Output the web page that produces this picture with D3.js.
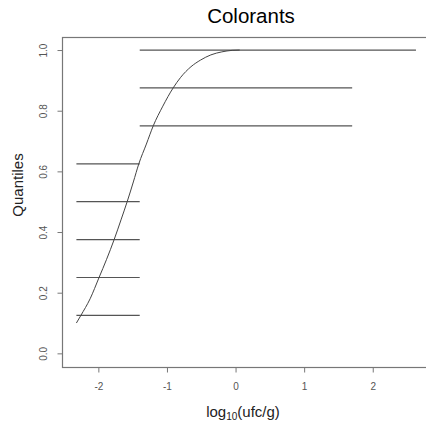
<!DOCTYPE html>
<html>
<head>
<meta charset="utf-8">
<script src="https://cdn.jsdelivr.net/npm/d3@7"></script>
<style>
  body { margin: 0; background: #fff; }
  svg { font-family: "Liberation Sans", Arial, sans-serif; }
</style>
</head>
<body>
<div class="chart"></div>
<script>
// Quantile steps (horizontal segments)
var stepLevels = [0.125, 0.25, 0.375, 0.5, 0.625, 0.75, 0.875, 1.0];
var stepStart  = [-2.32, -2.32, -2.32, -2.32, -2.32, -1.397, -1.397, -1.397];
var stepEnd    = [-1.397, -1.397, -1.397, -1.397, -1.397, 1.70, 1.70, 2.63];

// Fitted cumulative curve
var curveX = [-2.32, -2.255, -2.12, -1.99, -1.88, -1.77, -1.67, -1.58, -1.49, -1.41,
              -1.30, -1.20, -1.06, -0.91, -0.80, -0.65, -0.51, -0.36, -0.20, -0.05, 0.06];
var curveY = [0.10, 0.125, 0.18, 0.25, 0.31, 0.375, 0.44, 0.50, 0.565, 0.625,
              0.69, 0.75, 0.815, 0.875, 0.91, 0.945, 0.967, 0.984, 0.994, 0.999, 1.0];

var xTicks = [-2, -1, 0, 1, 2];
var yTicks = [0.0, 0.2, 0.4, 0.6, 0.8, 1.0];

var svgWidth = 426, svgHeight = 422;

var svg = d3.select(".chart")
  .append("svg")
  .attr("width", svgWidth)
  .attr("height", svgHeight);

var xScale = d3.scaleLinear().domain([-2.53, 2.82]).range([62, 429]);
var yScale = d3.scaleLinear().domain([-0.045, 1.043]).range([367, 37]);

// plot box (right side falls outside the picture)
svg.append("rect")
  .attr("x", 62.5)
  .attr("y", 37.5)
  .attr("width", 380)
  .attr("height", 330)
  .attr("fill", "none")
  .attr("stroke", "#777")
  .attr("stroke-width", 1.2);

// axes
var xAxis = d3.axisBottom(xScale).tickValues(xTicks).tickSize(5).tickPadding(10)
  .tickFormat(d3.format("d"));
var yAxis = d3.axisLeft(yScale).tickValues(yTicks).tickSize(5).tickPadding(10)
  .tickFormat(d3.format(".1f"));

var gx = svg.append("g").attr("transform", "translate(0, 367.5)").call(xAxis);
gx.select(".domain").remove();
gx.selectAll("line").attr("stroke", "#777");
gx.selectAll("text").attr("fill", "#555").attr("font-size", "10px")
  .text(function(d) { return d < 0 ? "-" + Math.abs(d) : d; });

var gy = svg.append("g").attr("transform", "translate(62.5, 0)").call(yAxis);
gy.select(".domain").remove();
gy.selectAll("line").attr("stroke", "#777");
gy.selectAll("text")
  .attr("fill", "#555")
  .attr("font-size", "10px")
  .attr("text-anchor", "middle")
  .attr("x", null)
  .attr("transform", "translate(-19, 0) rotate(-90)")
  .attr("dy", "0.35em");

// step segments
svg.append("g").selectAll("line")
  .data(stepLevels)
  .enter()
  .append("line")
  .attr("x1", function(d, i) { return xScale(stepStart[i]); })
  .attr("x2", function(d, i) { return xScale(stepEnd[i]); })
  .attr("y1", function(d) { return yScale(d); })
  .attr("y2", function(d) { return yScale(d); })
  .attr("stroke", "#555")
  .attr("stroke-width", 1.2);

// curve
var curveData = curveX.map(function(x, i) { return [x, curveY[i]]; });
svg.append("path")
  .datum(curveData)
  .attr("fill", "none")
  .attr("stroke", "#444")
  .attr("stroke-width", 1)
  .attr("d", d3.line()
    .x(function(d) { return xScale(d[0]); })
    .y(function(d) { return yScale(d[1]); })
    .curve(d3.curveMonotoneX));

// title
svg.append("text")
  .attr("x", 251)
  .attr("y", 23)
  .attr("text-anchor", "middle")
  .attr("font-size", "20.5px")
  .attr("fill", "#000")
  .text("Colorants");

// y label
svg.append("text")
  .attr("transform", "translate(23, 185) rotate(-90)")
  .attr("text-anchor", "middle")
  .attr("font-size", "15px")
  .attr("fill", "#222")
  .text("Quantiles");

// x label with subscript
var xl = svg.append("text")
  .attr("x", 243)
  .attr("y", 417)
  .attr("text-anchor", "middle")
  .attr("font-size", "15px")
  .attr("fill", "#222");
xl.append("tspan").text("log");
xl.append("tspan").attr("font-size", "10px").attr("dy", "3").text("10");
xl.append("tspan").attr("dy", "-3").text("(ufc/g)");
</script>
</body>
</html>
